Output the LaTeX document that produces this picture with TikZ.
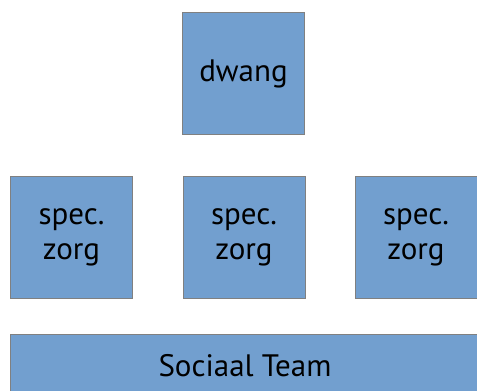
\documentclass[tikz,border=0pt]{standalone}
\usepackage{fontspec}
\setmainfont{PT Sans}
\begin{document}
\begin{tikzpicture}[x=1pt,y=-1pt,
  blok/.style={draw=black!50, line width=1pt, fill=boxblue, rectangle,
    inner sep=0pt, align=center, font=\fontsize{31}{35}\selectfont},
  vak/.style={blok, minimum width=122pt, minimum height=122pt}]
\definecolor{boxblue}{RGB}{114,159,207}
\clip (0,0) rectangle (477,391);
\fill[white] (0,0) rectangle (477,391);
\node[vak] (dwang) at (243.5,73.5) {dwang};
\node[vak] (zorgA) at (71.5,237) {spec.\\zorg};
\node[vak] (zorgB) at (244,237) {spec.\\zorg};
\node[vak] (zorgC) at (416,237) {spec.\\zorg};
\node[blok, minimum width=470pt, minimum height=64pt] (team) at (245,366) {Sociaal Team};
\end{tikzpicture}
\end{document}
